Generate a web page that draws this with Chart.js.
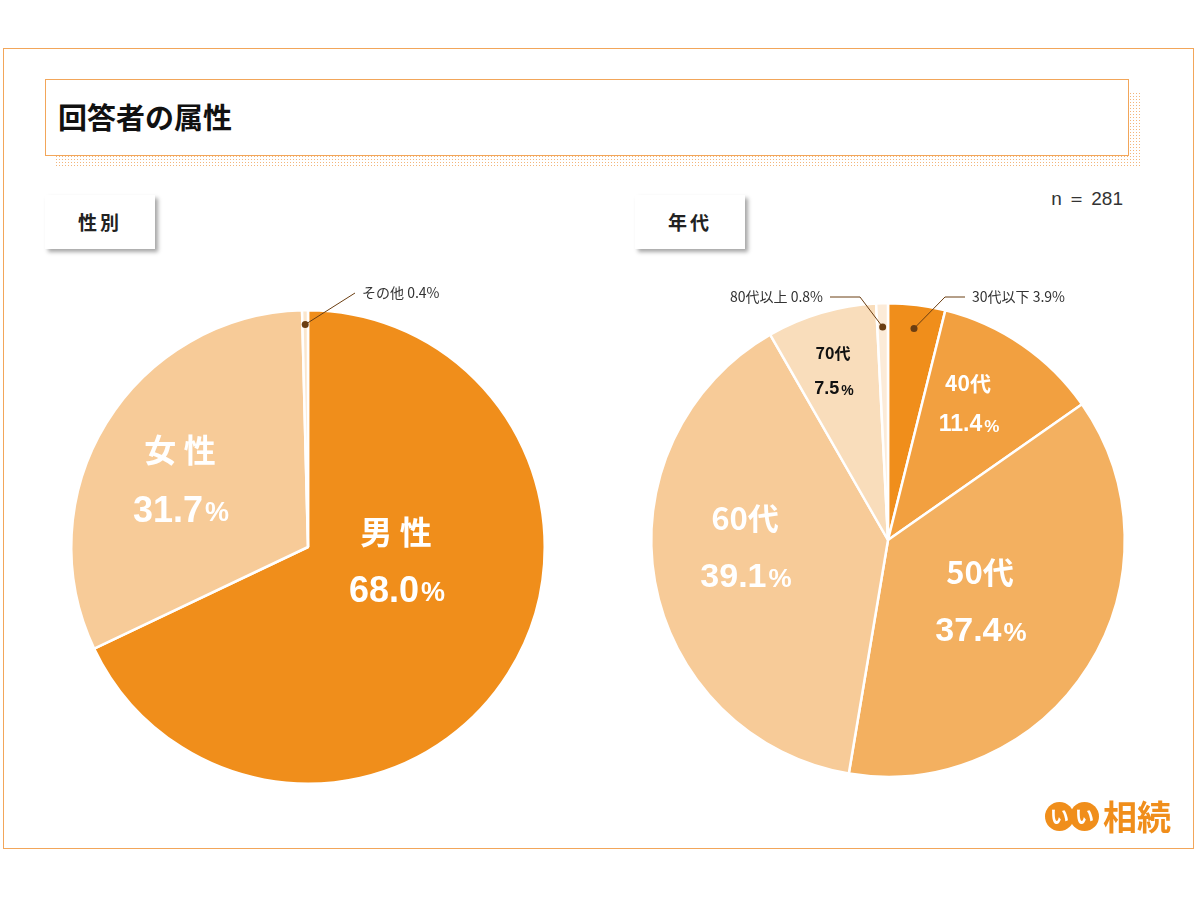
<!DOCTYPE html>
<html><head><meta charset="utf-8">
<script src="https://cdn.jsdelivr.net/npm/chart.js@4"></script>
<style>
body{margin:0;width:1200px;height:900px;background:#fff;font-family:"Noto Sans CJK JP",sans-serif;position:relative;overflow:hidden}
.frame{position:absolute;left:3px;top:48px;width:1191px;height:801px;border:1.5px solid #F2A65A;box-sizing:border-box}
.shadow{position:absolute;left:55px;top:92px;width:1087px;height:76px;background-image:radial-gradient(#F3B57A 0.9px,transparent 1px);background-size:3px 3px}
.title{position:absolute;left:45px;top:79px;width:1084px;height:77px;border:1px solid #F2A65A;background:#fff;box-sizing:border-box;font-weight:bold;font-size:29px;line-height:73px;padding-left:12px;color:#111}
.tab{position:absolute;width:110px;height:54px;background:#fff;box-shadow:3px 3px 4px rgba(0,0,0,0.35);font-weight:bold;font-size:19px;line-height:54px;text-align:center;letter-spacing:3px;color:#222}
.n{position:absolute;right:77px;top:186px;font-size:19px;color:#333;font-family:"Liberation Sans",sans-serif}
.box{position:absolute;width:560px;height:560px}
.logo{position:absolute;left:1045px;top:796px;height:40px;display:flex;align-items:center}
.c{width:29px;height:29px;border-radius:50%;background:#F08E1B;color:#fff;font-weight:bold;font-size:19px;line-height:27px;text-align:center;margin-right:-4px}
.lt{color:#F08E1B;font-weight:bold;font-size:34px;margin-left:8px;line-height:40px}
</style></head><body>
<div class="frame"></div>
<div class="shadow"></div>
<div class="title">回答者の属性</div>
<div class="tab" style="left:45px;top:195px">性別</div>
<div class="tab" style="left:635px;top:195px">年代</div>
<div class="n">n ＝ 281</div>
<div class="box" style="left:28px;top:267px"><canvas id="c1"></canvas></div>
<div class="box" style="left:608px;top:260px"><canvas id="c2"></canvas></div>
<div class="logo"><div class="c">い</div><div class="c">い</div><span class="lt">相続</span></div>
<script>
const genderLabels=["男性","女性","その他"];
const genderValues=[68.0,31.7,0.4];
const ageLabels=["30代以下","40代","50代","60代","70代","80代以上"];
const ageValues=[3.9,11.4,37.4,39.1,7.5,0.8];
const genderColors=["#F08E1B","#F7CB98","#FBE6CC"];
const ageColors=["#F08E1B","#F2A040","#F3B060","#F7CB98","#F9DDBB","#FCEBD8"];
const genderStyle=[{in:1,dx:88,dy:-15,size:36,color:"#fff",gap:60,sp:true},{in:1,dx:-128,dy:-97,size:36,color:"#fff",gap:62,sp:true},{out:1,ex:47,ey:-254,len:0,align:"left",rr:0.94}];
const ageStyle=[{out:1,ex:57,ey:-243,len:20,align:"left",rr:0.9},{in:1,dx:80,dy:-157,size:23,color:"#fff",gap:42},{in:1,dx:92,dy:32,size:34,color:"#fff",gap:60},{in:1,dx:-143,dy:-22,size:34,color:"#fff",gap:60},{in:1,dx:-55,dy:-187,size:18,color:"#111",gap:36},{out:1,ex:-28,ey:-243,len:30,align:"right",rr:0.9}];
function plugin(labels,values,style){return{id:'lbl',afterDatasetsDraw(chart){
 const ctx=chart.ctx;const meta=chart.getDatasetMeta(0);
 meta.data.forEach((arc,i)=>{const s=style[i];const cx=arc.x,cy=arc.y;
  ctx.save();
  if(s.in){const x=cx+s.dx,y=cy+s.dy;ctx.fillStyle=s.color;ctx.textAlign='center';ctx.textBaseline='middle';
   const lab=s.sp?labels[i].split('').join(' '):labels[i];
   ctx.font=`bold ${Math.round(s.size*0.9)}px "Noto Sans CJK JP"`;ctx.fillText(lab,x,y);
   const num=values[i].toFixed(1);ctx.font=`bold ${s.size}px "Liberation Sans"`;const w1=ctx.measureText(num).width;
   ctx.font=`bold ${Math.round(s.size*0.75)}px "Liberation Sans"`;const w2=ctx.measureText('%').width;
   const x0=x-(w1+w2)/2;ctx.textAlign='left';ctx.font=`bold ${s.size}px "Liberation Sans"`;ctx.fillText(num,x0,y+s.gap);
   ctx.font=`bold ${Math.round(s.size*0.75)}px "Liberation Sans"`;ctx.fillText('%',x0+w1+2,y+s.gap+2);
  }else{const p=arc.getProps(['startAngle','endAngle','outerRadius'],true);const a=(p.startAngle+p.endAngle)/2;const rr=(s.rr||0.95)*p.outerRadius;
   const px=cx+Math.cos(a)*rr,py=cy+Math.sin(a)*rr;const ex=cx+s.ex,ey=cy+s.ey;const dir=s.align==='left'?1:-1;
   ctx.strokeStyle='#6B3E12';ctx.lineWidth=1;ctx.beginPath();ctx.moveTo(px,py);ctx.lineTo(ex,ey);ctx.lineTo(ex+dir*(s.len),ey);ctx.stroke();
   ctx.fillStyle='#6B3E12';ctx.beginPath();ctx.arc(px,py,3.5,0,Math.PI*2);ctx.fill();
   ctx.fillStyle='#333';ctx.textBaseline='middle';ctx.textAlign=s.align;ctx.font='14px "Noto Sans CJK JP"';
   ctx.fillText(labels[i]+' '+values[i].toFixed(1)+'%',ex+dir*(s.len+7),ey);}
  ctx.restore();});}}}
function mk(id,labels,values,colors,style){new Chart(document.getElementById(id),{type:'pie',
 data:{labels,datasets:[{data:values,backgroundColor:colors,borderColor:'#fff',borderWidth:2.5}]},
 options:{responsive:true,maintainAspectRatio:false,animation:false,layout:{padding:42},
  plugins:{legend:{display:false},tooltip:{enabled:false}}},plugins:[plugin(labels,values,style)]});}
mk('c1',genderLabels,genderValues,genderColors,genderStyle);
mk('c2',ageLabels,ageValues,ageColors,ageStyle);
</script></body></html>
